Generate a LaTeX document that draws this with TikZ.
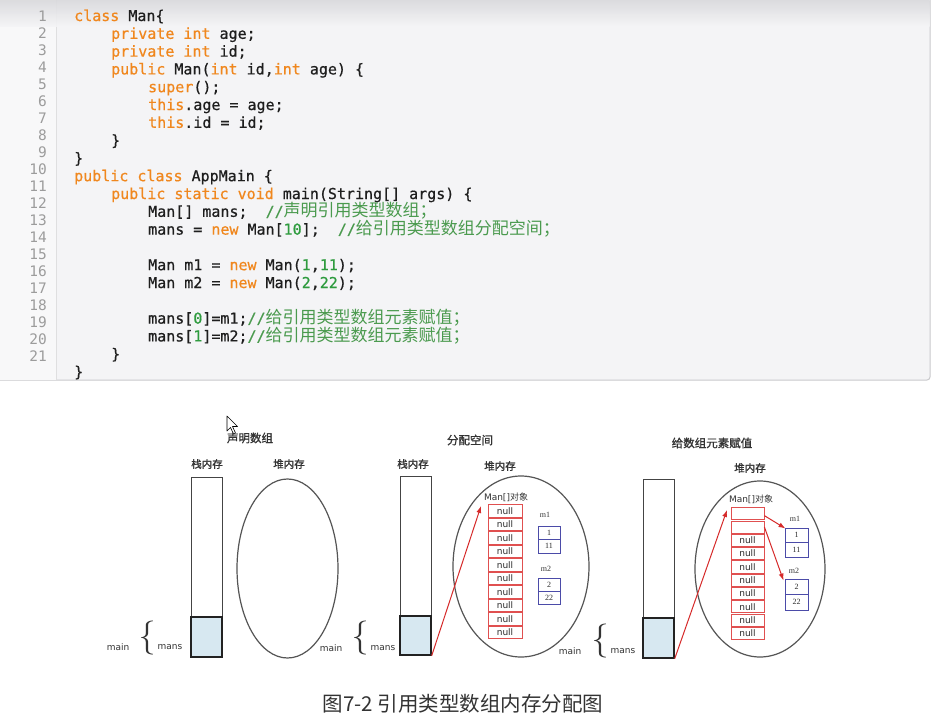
\documentclass[tikz,border=0pt]{standalone}
\usepackage{fontspec}
\usetikzlibrary{arrows.meta,shapes.geometric}
\newfontfamily\codefont[FakeBold=0.6]{DejaVu Sans Mono}
\newfontfamily\lnfont{DejaVu Sans Mono}
\newfontfamily\cjk{Noto Sans CJK SC}
\newfontfamily\cjkb[FakeBold=1.2]{Noto Sans CJK SC}
\newfontfamily\sansf{DejaVu Sans}
\newfontfamily\serifb{Liberation Serif}
\definecolor{panelbg}{HTML}{F4F4F6}
\definecolor{gutterbg}{HTML}{F8F8F9}
\definecolor{panelborder}{HTML}{C9C9CC}
\definecolor{shadetop}{HTML}{D9D9DC}
\definecolor{kwc}{HTML}{F0871E}
\definecolor{numc}{HTML}{2E9B3E}
\definecolor{cmc}{HTML}{4A9A4E}
\definecolor{codec}{HTML}{1E1E1E}
\definecolor{lnc}{HTML}{9C9C9C}
\definecolor{lblc}{HTML}{333333}
\definecolor{nullc}{HTML}{2A2A2A}
\definecolor{arrred}{HTML}{D62A2A}
\definecolor{cellred}{HTML}{E05050}
\definecolor{boxblue}{HTML}{4B4BA8}
\definecolor{stackblue}{HTML}{D7E8F1}
\definecolor{stackline}{HTML}{444444}
\definecolor{stackdark}{HTML}{222222}
\definecolor{heapline}{HTML}{555555}
\newcommand\kw[1]{\textcolor{kwc}{#1}}
\newcommand\nm[1]{\textcolor{numc}{#1}}
\newcommand\cmt[1]{\textcolor{cmc}{//{\cjk\fontsize{17}{17}\selectfont #1}}}
\tikzset{
 codeln/.style={anchor=base west, inner sep=0, font=\codefont\fontsize{15}{15}\selectfont, text=codec},
 lnum/.style={anchor=base east, inner sep=0, font=\lnfont\fontsize{14.5}{15}\selectfont, text=lnc},
 ttl/.style={inner sep=0, font=\cjkb\fontsize{11.5}{12}\selectfont, text=lblc},
 meml/.style={inner sep=0, font=\cjkb\fontsize{10.5}{11}\selectfont, text=lblc},
 smalll/.style={inner sep=0, font=\sansf\fontsize{9}{10}\selectfont, text=lblc},
 bracel/.style={inner sep=0, font=\fontsize{34}{34}\selectfont, text=lblc},
 stackrect/.style={draw=stackline, line width=1pt, minimum width=31pt, inner sep=0, fill=white},
 stackcell/.style={draw=stackdark, line width=1.4pt, fill=stackblue, minimum width=31pt, inner sep=0},
 heapell/.style={ellipse, draw=heapline, line width=1.2pt, inner sep=0},
 arrcell/.style={draw=cellred, line width=0.8pt, inner sep=0, fill=white, font=\sansf\fontsize{9}{9}\selectfont, text=nullc},
 mcell/.style={draw=boxblue, line width=1pt, inner sep=0, fill=white, font=\serifb\fontsize{8}{8}\selectfont, text=nullc},
 mlabel/.style={inner sep=0, font=\serifb\fontsize{8}{8}\selectfont, text=lblc},
 objl/.style={inner sep=0, font=\sansf\fontsize{9}{9}\selectfont, text=lblc},
 redarrow/.style={draw=arrred, line width=1pt, -{Latex[length=7pt,width=5pt]}},
}
\begin{document}
\begin{tikzpicture}[x=1pt,y=-1pt]
\useasboundingbox (0,0) rectangle (935,723);
\fill[white] (0,0) rectangle (935,723);
% code panel
\draw[fill=panelbg, draw=panelborder, line width=1pt, rounded corners=3pt] (-5,-5) rectangle (930,380);
\fill[gutterbg] (0,0) rectangle (56,379.5);
\draw[panelborder!60, line width=0.6pt] (56,0) -- (56,379.5);
\shade[top color=shadetop, bottom color=panelbg, opacity=0.9] (0,0) rectangle (929.5,26);
% line numbers
\foreach \i in {1,...,21} \node[lnum] (n\i) at (47,{21.7+17*(\i-1)}) {\i};
% code
\node[codeln] (c1) at (74,21.0) {\kw{class} Man\{};
\node[codeln] (c2) at (111,38.8) {\kw{private} \kw{int} age;};
\node[codeln] (c3) at (111,56.6) {\kw{private} \kw{int} id;};
\node[codeln] (c4) at (111,74.4) {\kw{public} Man(\kw{int} id,\kw{int} age) \{};
\node[codeln] (c5) at (148,92.2) {\kw{super}();};
\node[codeln] (c6) at (148,110.0) {\kw{this}.age = age;};
\node[codeln] (c7) at (148,127.8) {\kw{this}.id = id;};
\node[codeln] (c8) at (111,145.6) {\}};
\node[codeln] (c9) at (74,163.4) {\}};
\node[codeln] (c10) at (74,181.2) {\kw{public} \kw{class} AppMain \{};
\node[codeln] (c11) at (111,199.0) {\kw{public} \kw{static} \kw{void} main(String[] args) \{};
\node[codeln] (c12) at (148,216.8) {Man[] mans;\ \ \cmt{声明引用类型数组；}};
\node[codeln] (c13) at (148,234.6) {mans = \kw{new} Man[\nm{10}];\ \ \cmt{给引用类型数组分配空间；}};
\node[codeln] (c15) at (148,270.2) {Man m1 = \kw{new} Man(\nm{1},\nm{11});};
\node[codeln] (c16) at (148,288.0) {Man m2 = \kw{new} Man(\nm{2},\nm{22});};
\node[codeln] (c18) at (148,323.6) {mans[\nm{0}]=m1;\cmt{给引用类型数组元素赋值；}};
\node[codeln] (c19) at (148,341.4) {mans[\nm{1}]=m2;\cmt{给引用类型数组元素赋值；}};
\node[codeln] (c20) at (111,359.2) {\}};
\node[codeln] (c21) at (74,377.0) {\}};

% cursor
\draw[black, line width=0.6pt, fill=white, line join=round]
  (227,416) -- (227,431) -- (230.5,427.5) -- (233.5,434) -- (235.5,433) -- (232.5,426.5) -- (237.5,426.5) -- cycle;

% ---------- panel 1 ----------
\node[ttl] (t1) at (250,438) {声明数组};
\node[meml] (sl1) at (207,464) {栈内存};
\node[meml] (hl1) at (289,464) {堆内存};
\node[stackrect, minimum height=180pt] (s1) at (206.5,567) {};
\node[stackcell, minimum height=40pt] (b1) at (206.5,637) {};
\node[heapell, minimum width=101pt, minimum height=179pt] (e1) at (287.5,568.5) {};
\node[smalll] (mainA) at (118,647) {main};
\node[bracel] (brA) at (147,638) {\{};
\node[smalll] (mansA) at (170,647) {mans};

% ---------- panel 2 ----------
\node[ttl] (t2) at (470,440) {分配空间};
\node[meml] (sl2) at (413,464) {栈内存};
\node[meml] (hl2) at (500,466) {堆内存};
\node[stackrect, minimum height=179pt] (s2) at (415.5,565.5) {};
\node[stackcell, minimum height=39pt] (b2) at (415.5,635.5) {};
\node[heapell, minimum width=136pt, minimum height=181pt] (e2) at (521,566.5) {};
\node[smalll] (mainB) at (331,648) {main};
\node[bracel] (brB) at (360,638) {\{};
\node[smalll] (mansB) at (383,648) {mans};
\node[objl] (o2) at (506,497) {Man[]{\cjk 对象}};
\foreach \k in {0,...,9}
  \node[arrcell, minimum width=34pt, minimum height=12.3pt] (a2c\k) at (505,{510.75+13.5*\k}) {null};
\node[mlabel] (m1l2) at (545,515) {m1};
\node[mcell, minimum width=22pt, minimum height=13.5pt] (m1a2) at (549,532.75) {1};
\node[mcell, minimum width=22pt, minimum height=13.5pt] (m1b2) at (549,546.25) {11};
\node[mlabel] (m2l2) at (546,569) {m2};
\node[mcell, minimum width=22pt, minimum height=13pt] (m2a2) at (549,584.5) {2};
\node[mcell, minimum width=22pt, minimum height=13pt] (m2b2) at (549,597.5) {22};
\coordinate (tip2) at (481,506);
\draw[redarrow] (b2.south east) -- (tip2);

% ---------- panel 3 ----------
\node[ttl] (t3) at (712,443) {给数组元素赋值};
\node[meml] (hl3) at (750,468) {堆内存};
\node[stackrect, minimum height=179pt] (s3) at (658.5,568.5) {};
\node[stackcell, minimum height=40pt] (b3) at (658.5,638) {};
\node[heapell, minimum width=130pt, minimum height=176pt] (e3) at (760,569) {};
\node[smalll] (mainC) at (570,651) {main};
\node[bracel] (brC) at (600,641) {\{};
\node[smalll] (mansC) at (623,651) {mans};
\node[objl] (o3) at (751,499) {Man[]{\cjk 对象}};
\foreach \k in {0,1}
  \node[arrcell, minimum width=33pt, minimum height=12.1pt] (a3c\k) at (747.5,{513.65+13.3*\k}) {};
\foreach \k in {2,...,9}
  \node[arrcell, minimum width=33pt, minimum height=12.1pt] (a3c\k) at (747.5,{513.65+13.3*\k}) {null};
\node[mlabel] (m1l3) at (795,519) {m1};
\node[mcell, minimum width=23pt, minimum height=14.5pt] (m1a3) at (796.5,535.25) {1};
\node[mcell, minimum width=23pt, minimum height=14.5pt] (m1b3) at (796.5,549.75) {11};
\node[mlabel] (m2l3) at (794,571) {m2};
\node[mcell, minimum width=23pt, minimum height=15.5pt] (m2a3) at (796.5,586.75) {2};
\node[mcell, minimum width=23pt, minimum height=15.5pt] (m2b3) at (796.5,602.25) {22};
\coordinate (tip3) at (727,510);
\draw[redarrow] (b3.south east) -- (tip3);
\draw[redarrow] ([yshift=-2pt]a3c0.east) -- ([xshift=1pt,yshift=-1pt]m1a3.north west);
\draw[redarrow] (a3c1.east) -- ([xshift=-1pt,yshift=-2pt]m2a3.north west);

% caption
\node[inner sep=0, font=\cjk\fontsize{20.5}{21}\selectfont, text=lblc] (cap) at (463,704) {图7-2 引用类型数组内存分配图};
\end{tikzpicture}
\end{document}
